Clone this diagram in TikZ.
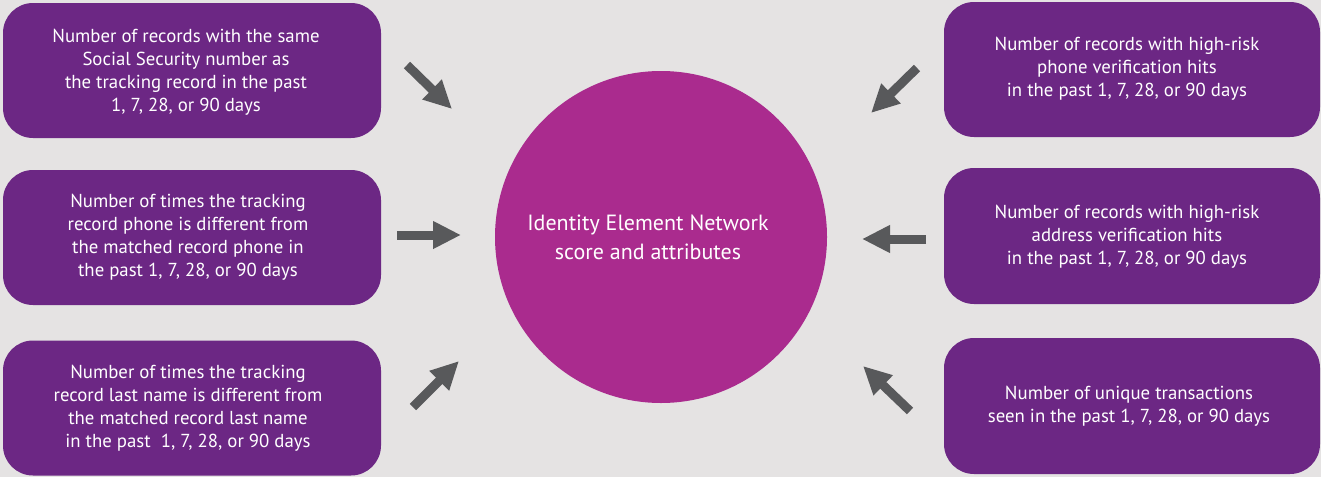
\documentclass[tikz,border=0pt]{standalone}
\usepackage{fontspec}
\setmainfont{PT Sans}
\usetikzlibrary{arrows.meta}
\definecolor{bgc}{HTML}{E5E3E3}
\definecolor{boxc}{HTML}{6C2784}
\definecolor{circc}{HTML}{AA2B8E}
\definecolor{arrc}{HTML}{58595B}
\begin{document}
\begin{tikzpicture}[x=1pt,y=-1pt,
  infobox/.style={fill=boxc, rounded corners=30pt, inner sep=0pt},
  boxtext/.style={text=white, align=center, font=\fontsize{18.8}{23}\selectfont},
  blockarrow/.style={draw=arrc, line width=9pt, -{Triangle[length=28pt,width=26pt]}}]
\useasboundingbox (0,0) rectangle (1321,477);
\fill[bgc] (0,0) rectangle (1321,477);
% boxes
\node[infobox, minimum width=378pt, minimum height=135pt] (l1) at (192,70.5) {};
\node[infobox, minimum width=378pt, minimum height=135pt] (l2) at (192,237.5) {};
\node[infobox, minimum width=378pt, minimum height=135pt] (l3) at (192,408) {};
\node[infobox, minimum width=376pt, minimum height=135pt] (r1) at (1132,69.5) {};
\node[infobox, minimum width=376pt, minimum height=136pt] (r2) at (1132,236) {};
\node[infobox, minimum width=376pt, minimum height=136pt] (r3) at (1132,406) {};
% texts
\node[boxtext] (t1) at (186,72.5) {Number of records with the same\\Social Security number as\\the tracking record in the past\\1, 7, 28, or 90 days};
\node[boxtext] (t2) at (188,237.5) {Number of times the tracking\\record phone is different from\\the matched record phone in\\the past 1, 7, 28, or 90 days};
\node[boxtext] (t3) at (188,408) {Number of times the tracking\\record last name is different from\\the matched record last name\\in the past\ \ 1, 7, 28, or 90 days};
\node[boxtext] (t4) at (1127,69) {Number of records with high-risk\\phone verification hits\\in the past 1, 7, 28, or 90 days};
\node[boxtext] (t5) at (1127,237) {Number of records with high-risk\\address verification hits\\in the past 1, 7, 28, or 90 days};
\node[boxtext] (t6) at (1129,406.5) {Number of unique transactions\\seen in the past 1, 7, 28, or 90 days};
% circle
\node[circle, fill=circc, minimum size=332pt, inner sep=0pt] (c) at (661,237) {};
\node[text=white, align=center, font=\fontsize{22}{29}\selectfont] (ct) at (648,237.5) {Identity Element Network\\score and attributes};
% arrows
\coordinate (a1s) at (407,65);  \coordinate (a1e) at (452,109);
\coordinate (a2s) at (397,235); \coordinate (a2e) at (461,235);
\coordinate (a3s) at (413,407); \coordinate (a3e) at (459,361);
\coordinate (a4s) at (917,68);  \coordinate (a4e) at (871,113);
\coordinate (a5s) at (926,239); \coordinate (a5e) at (862,239);
\coordinate (a6s) at (910,411); \coordinate (a6e) at (863,366);
\foreach \i in {1,...,6}{\draw[blockarrow] (a\i s) -- (a\i e);}
\end{tikzpicture}
\end{document}
